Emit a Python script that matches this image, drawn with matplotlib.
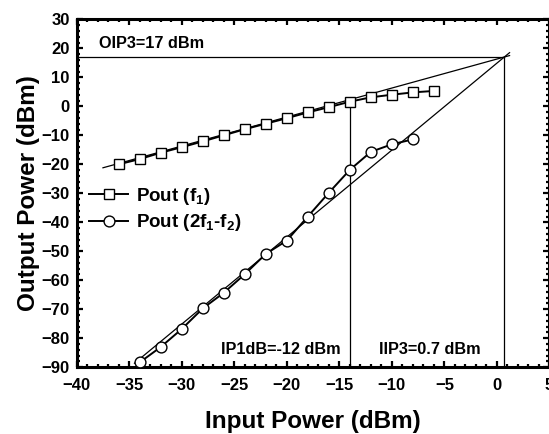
import matplotlib
matplotlib.use("Agg")
import matplotlib.pyplot as plt
from matplotlib.ticker import MultipleLocator

plt.rcParams['font.family'] = ['Liberation Sans', 'DejaVu Sans']
plt.rcParams['font.weight'] = 'bold'
plt.rcParams['mathtext.fontset'] = 'custom'
plt.rcParams['mathtext.rm'] = 'Liberation Sans:bold'
plt.rcParams['mathtext.it'] = 'Liberation Sans:bold'
plt.rcParams['mathtext.bf'] = 'Liberation Sans:bold'

# Measured two-tone sweep
pin_f1 = [-36, -34, -32, -30, -28, -26, -24, -22, -20, -18, -16, -14, -12, -10, -8, -6]
pout_f1 = [-20.0, -18.2, -16.0, -14.1, -12.1, -10.0, -7.9, -6.0, -4.1, -2.1, -0.3,
           1.6, 3.1, 4.0, 4.8, 5.3]
pin_im3 = [-34, -32, -30, -28, -26, -24, -22, -20, -18, -16, -14, -12, -10, -8]
pout_im3 = [-88.3, -83.0, -76.8, -69.7, -64.3, -57.9, -50.9, -46.3, -38.0, -29.8,
            -21.9, -15.7, -13.1, -11.4]

# Intercept / compression figures
iip3 = 0.7
oip3 = 17
ip1db_pin = -14
ip1db_pout = 1.6

# Extrapolated slopes (1:1 fundamental, 3:1 third-order product)
fund_x = [-37.5, 1.2]
fund_y = [x - iip3 + oip3 for x in fund_x]
im3_x = [-34.5, 1.2]
im3_y = [3 * (x - iip3) + oip3 for x in im3_x]

fig = plt.figure(figsize=(5.49, 4.34), dpi=100)
ax = fig.add_axes([0.1397, 0.1537, 0.8612, 0.8018])

# Reference lines for IP1dB and IP3
ax.plot([-40, iip3], [oip3, oip3], color='black', lw=0.9, zorder=2)
ax.plot([iip3, iip3], [-90, oip3], color='black', lw=0.9, zorder=2)
ax.plot([ip1db_pin, ip1db_pin], [-90, ip1db_pout], color='black', lw=0.9, zorder=2)
ax.plot(fund_x, fund_y, color='black', lw=0.9, zorder=2)
ax.plot(im3_x, im3_y, color='black', lw=0.9, zorder=2)

ax.plot(pin_f1, pout_f1, color='black', lw=1.4, marker='s', ms=7.2,
        mfc='white', mec='black', mew=1.0, zorder=3,
        label=r'Pout (f$\mathregular{_1}$)')
ax.plot(pin_im3, pout_im3, color='black', lw=1.4, marker='o', ms=7.8,
        mfc='white', mec='black', mew=1.0, zorder=3,
        label=r'Pout (2f$\mathregular{_1}$-f$\mathregular{_2}$)')

ax.set_xlim(-40, 5)
ax.set_ylim(-90, 30)
ax.xaxis.set_major_locator(MultipleLocator(5))
ax.xaxis.set_minor_locator(MultipleLocator(1))
ax.yaxis.set_major_locator(MultipleLocator(10))
ax.yaxis.set_minor_locator(MultipleLocator(2))
ax.tick_params(which='both', direction='in', top=True, right=True, width=1.6,
               labelsize=12)
ax.tick_params(axis='x', which='both', pad=8)
ax.tick_params(axis='y', which='both', pad=5)
ax.tick_params(which='major', length=4.5)
ax.tick_params(which='minor', length=2.5)
for s in ax.spines.values():
    s.set_linewidth(2.2)
for lab in ax.get_xticklabels() + ax.get_yticklabels():
    lab.set_fontweight('bold')

ax.set_xlabel('Input Power (dBm)', fontsize=17.5, fontweight='bold', labelpad=12)
ax.set_ylabel('Output Power (dBm)', fontsize=17.5, fontweight='bold', labelpad=1)

ax.text(-37.9, 21.7, 'OIP3=17 dBm', fontsize=11.7, fontweight='bold',
        ha='left', va='center')
ax.text(-14.85, -84, 'IP1dB=-12 dBm', fontsize=11.7, fontweight='bold',
        ha='right', va='center')
ax.text(-1.6, -84, 'IIP3=0.7 dBm', fontsize=11.7, fontweight='bold',
        ha='right', va='center')

ax.legend(loc='upper left', bbox_to_anchor=(0.026, 0.522), frameon=False,
          handlelength=2.1, handletextpad=0.4, labelspacing=0.3,
          borderpad=0, borderaxespad=0, prop={'weight': 'bold', 'size': 13.5})

fig.savefig('out.png', dpi=100)
